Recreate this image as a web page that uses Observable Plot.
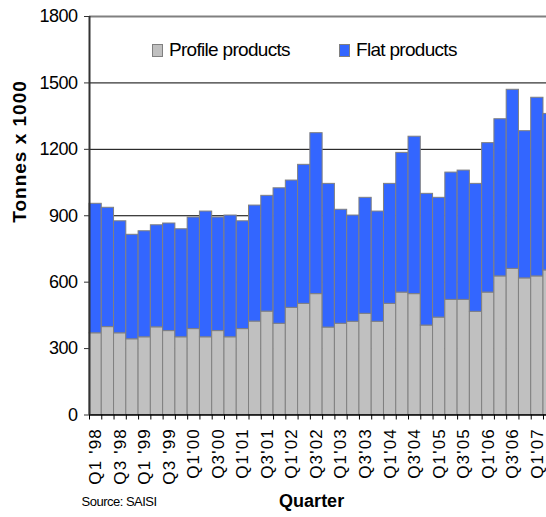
<!DOCTYPE html>
<html><head><meta charset="utf-8">
<script src="https://cdn.jsdelivr.net/npm/d3@7"></script>
<script src="https://cdn.jsdelivr.net/npm/@observablehq/plot@0.6"></script>
<style>
html,body{margin:0;padding:0;background:#fff;}
#chart{position:relative;width:546px;height:517px;overflow:hidden;font-family:"Liberation Sans",Arial,sans-serif;}
.legend{position:absolute;top:40px;display:flex;align-items:center;font-size:19px;letter-spacing:-0.7px;color:#000;line-height:20px;}
.sw{display:inline-block;width:11px;height:13px;box-sizing:border-box;border:1px solid #808080;margin-right:6px;}
</style></head><body><div id="chart"></div>
<script>
const quarters = [
  "Q1 '98","Q2 '98","Q3 '98","Q4 '98","Q1 '99","Q2 '99","Q3 '99","Q4 '99",
  "Q1'00","Q2'00","Q3'00","Q4'00","Q1'01","Q2'01","Q3'01","Q4'01",
  "Q1'02","Q2'02","Q3'02","Q4'02","Q1'03","Q2'03","Q3'03","Q4'03",
  "Q1'04","Q2'04","Q3'04","Q4'04","Q1'05","Q2'05","Q3'05","Q4'05",
  "Q1'06","Q2'06","Q3'06","Q4'06","Q1'07","Q2'07"
];
const profile = [369,397,369,342,351,396,379,351,388,351,379,351,388,422,467,412,
  484,502,546,395,412,421,457,421,502,553,546,404,440,520,520,466,553,626,660,617,626,653];
const flat = [585,539,506,472,479,461,486,488,504,568,513,550,487,524,523,612,
  575,628,727,649,515,480,524,498,542,631,711,595,541,575,584,578,675,710,809,665,807,707];
const seriesNames = ["Profile products","Flat products"];
const seriesColors = ["#C0C0C0","#3366FF"];
const yTicks = [0,300,600,900,1200,1500,1800];
const labelTicks = quarters.filter((d,i) => i % 2 === 0);

const rows = quarters.flatMap((q,i) => [
  {q, s: seriesNames[0], v: profile[i]},
  {q, s: seriesNames[1], v: flat[i]}
]);

const W = 546, H = 517, mL = 89, mT = 16, mB = 102.5;
const bw = 12.27;
const mR = W - mL - quarters.length * bw;

const font = '"Liberation Sans", Arial, sans-serif';

const chart = Plot.plot({
  width: W, height: H,
  marginLeft: mL, marginRight: mR, marginTop: mT, marginBottom: mB,
  style: {fontFamily: font, fontSize: "18px", background: "white", color: "#000"},
  x: {domain: quarters, padding: 0, round: false, axis: null},
  y: {domain: [0, 1800], axis: null},
  color: {domain: seriesNames, range: seriesColors},
  marks: [
    Plot.gridY(yTicks.filter(d => d > 0 && d < 1800), {stroke: "#000", strokeOpacity: 1, strokeWidth: 1}),
    Plot.barY(rows, {x: "q", y: "v", fill: "s", stroke: "#808080", strokeWidth: 1, order: seriesNames, inset: 0}),
    Plot.ruleY([1800], {stroke: "#808080", strokeWidth: 2}),
    Plot.ruleY([0], {stroke: "#000", strokeWidth: 1.5}),
    Plot.ruleX([quarters[0]], {y1: 0, y2: 1800, dx: -bw/2, stroke: "#333", strokeWidth: 2}),
    Plot.axisY({ticks: yTicks, tickSize: 5, tickPadding: 7, tickFormat: d => String(d), label: null, fontSize: 18, stroke: "#333"}),
    Plot.axisX({tickSize: 5, tickFormat: () => "", dx: -bw/2, label: null, stroke: "#000"}),
    Plot.axisX({ticks: labelTicks, tickSize: 0, tickPadding: 13, tickRotate: -90, label: null, fontSize: 17}),
    Plot.text(["Tonnes x 1000"], {frameAnchor: "left", dx: -70, dy: 7, rotate: -90, fontWeight: "bold", fontSize: 19}),
    Plot.text(["Quarter"], {frameAnchor: "bottom", dx: -11, dy: 92, fontWeight: "bold", fontSize: 18}),
    Plot.text(["Source: SAISI"], {frameAnchor: "bottom-left", textAnchor: "start", dx: -8, dy: 91, fontSize: 13})
  ]
});

chart.querySelectorAll('g[aria-label="x-axis tick label"]').forEach(g => g.style.letterSpacing = "1.2px");
chart.querySelectorAll('g[aria-label="y-axis tick label"]').forEach(g => g.style.letterSpacing = "-0.5px");
chart.querySelectorAll('g[aria-label="text"]').forEach(g => {
  const t = g.textContent;
  if (t.includes("Tonnes")) g.style.letterSpacing = "1px";
  if (t.includes("Source")) g.style.letterSpacing = "-0.5px";
});

const host = document.getElementById("chart");
host.appendChild(chart);

const legendLefts = [152, 339];
seriesNames.forEach((name, i) => {
  const item = document.createElement("div");
  item.className = "legend";
  item.style.left = legendLefts[i] + "px";
  const sw = document.createElement("span");
  sw.className = "sw";
  sw.style.background = seriesColors[i];
  item.appendChild(sw);
  item.appendChild(document.createTextNode(name));
  host.appendChild(item);
});
</script>
</body></html>
